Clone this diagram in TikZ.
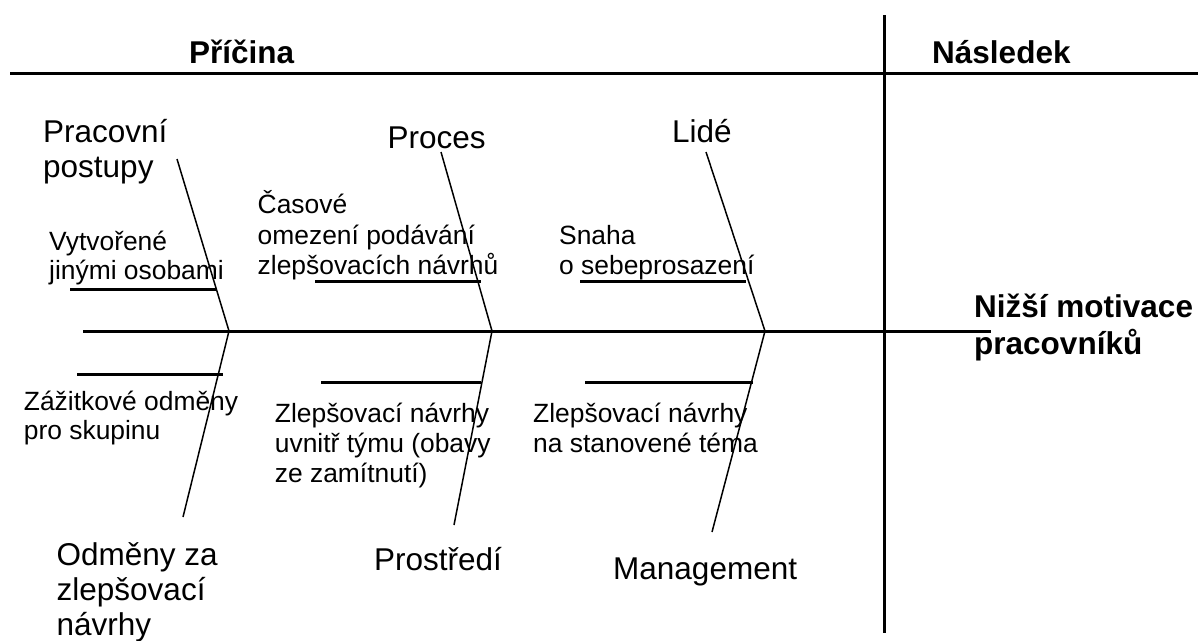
\documentclass[tikz,border=0pt]{standalone}
\usepackage{fontspec}
\setmainfont{Liberation Sans}
\begin{document}
\begin{tikzpicture}[x=1pt,y=-1pt,
  big/.style={font=\fontsize{31.5}{36}\selectfont, inner sep=0pt, anchor=base west},
  small/.style={font=\fontsize{26.4}{30}\selectfont, inner sep=0pt, anchor=base west},
  head/.style={font=\fontsize{31.5}{36}\selectfont\bfseries, inner sep=0pt, anchor=base west},
  thickline/.style={line width=3pt},
  bone/.style={line width=1.5pt}]
\useasboundingbox (0,0) rectangle (1198,640);
% frame lines
\coordinate (tl) at (10,73);
\coordinate (tr) at (1198,73);
\coordinate (vt) at (884.5,15);
\coordinate (vb) at (884.5,633);
\draw[thickline] (tl) -- (tr);
\draw[thickline] (vt) -- (vb);
% spine
\coordinate (s0) at (83,331);
\coordinate (s1) at (991,331);
\draw[thickline] (s0) -- (s1);
% joints
\coordinate (j1) at (229,331);
\coordinate (j2) at (492,331);
\coordinate (j3) at (765,331);
% bone ends
\coordinate (u1) at (177,159);
\coordinate (u2) at (441,152);
\coordinate (u3) at (706,152);
\coordinate (d1) at (183,517);
\coordinate (d2) at (454,525);
\coordinate (d3) at (712,532);
\draw[bone] (u1) -- (j1) -- (d1);
\draw[bone] (u2) -- (j2) -- (d2);
\draw[bone] (u3) -- (j3) -- (d3);
% sub-branches
\coordinate (a1) at (70,289);  \coordinate (a2) at (216,289);
\coordinate (b1) at (315,281); \coordinate (b2) at (481,281);
\coordinate (c1) at (580,281); \coordinate (c2) at (746,281);
\coordinate (e1) at (77,374);  \coordinate (e2) at (223,374);
\coordinate (f1) at (321,382); \coordinate (f2) at (481,382);
\coordinate (g1) at (585,382); \coordinate (g2) at (753,382);
\draw[thickline] (a1) -- (a2);
\draw[thickline] (b1) -- (b2);
\draw[thickline] (c1) -- (c2);
\draw[thickline] (e1) -- (e2);
\draw[thickline] (f1) -- (f2);
\draw[thickline] (g1) -- (g2);
% headings
\node[head] (pricina) at (189,63) {Příčina};
\node[head] (nasledek) at (932,63) {Následek};
\node[head] (nizsi1) at (974,317) {Nižší motivace};
\node[head] (nizsi2) at (974,354) {pracovníků};
% categories
\node[big] (prac1) at (43,142) {Pracovní};
\node[big] (prac2) at (43,177) {postupy};
\node[big] (proces) at (387.5,148) {Proces};
\node[big] (lide) at (672,142) {Lidé};
\node[big] (odm1) at (56.5,565) {Odměny za};
\node[big] (odm2) at (56.5,600) {zlepšovací};
\node[big] (odm3) at (56.5,635) {návrhy};
\node[big] (prostredi) at (374,570) {Prostředí};
\node[big] (mgmt) at (613,579) {Management};
% causes
\node[small] (cas1) at (257.5,213) {Časové};
\node[small] (cas2) at (257.5,244) {omezení podávání};
\node[small] (cas3) at (257.5,274) {zlepšovacích návrhů};
\node[small] (vyt1) at (49,250) {Vytvořené};
\node[small] (vyt2) at (49,279) {jinými osobami};
\node[small] (sna1) at (559,244) {Snaha};
\node[small] (sna2) at (559,274) {o sebeprosazení};
\node[small] (zaz1) at (23.7,410) {Zážitkové odměny};
\node[small] (zaz2) at (23.7,439) {pro skupinu};
\node[small] (zle1) at (274.7,422) {Zlepšovací návrhy};
\node[small] (zle2) at (274.7,452) {uvnitř týmu (obavy};
\node[small] (zle3) at (274.7,482) {ze zamítnutí)};
\node[small] (zst1) at (533,422) {Zlepšovací návrhy};
\node[small] (zst2) at (533,452) {na stanovené téma};
\end{tikzpicture}
\end{document}
